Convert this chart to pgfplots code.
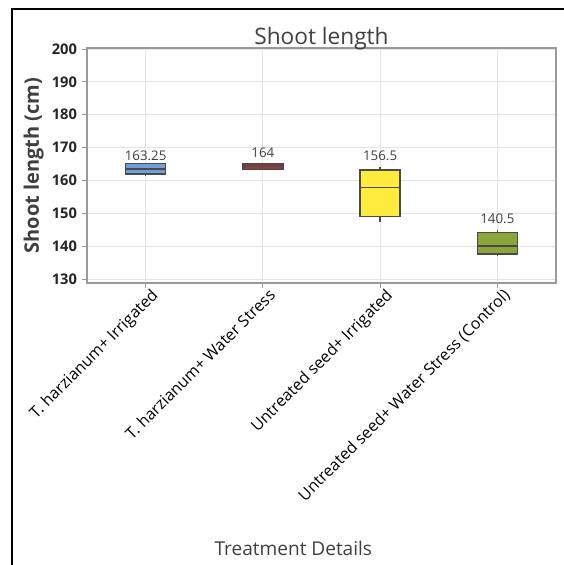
\documentclass[border=0pt]{standalone}
\usepackage{pgfplots}
\pgfplotsset{compat=1.18}
\usepgfplotslibrary{statistics}
\usepackage{fontspec}
\setmainfont{Open Sans}

\definecolor{txtgray}{HTML}{404040}
\definecolor{gridgray}{HTML}{E4E4E4}
\definecolor{axgray}{HTML}{9A9A9A}
\definecolor{boxedge}{HTML}{4A4A4A}
\definecolor{cblue}{HTML}{6E9FDB}
\definecolor{cred}{HTML}{9E3A38}
\definecolor{cyellow}{HTML}{FFEB3C}
\definecolor{cgreen}{HTML}{8AA53A}

\begin{document}
\begin{tikzpicture}[x=0.75pt,y=0.75pt]
% page = 564 x 565 px, axis lower left at px (87,283)
\useasboundingbox (-87,-282) rectangle (477,283);
\draw[line width=1.5pt,black] (-75,-282) -- (-75,274) -- (477,274);

\begin{axis}[
    at={(0,0)}, anchor=south west,
    scale only axis,
    width=351.75pt, height=176.25pt,
    xmin=0.5, xmax=4.5,
    ymin=128.8, ymax=200.3,
    ytick={130,140,...,200},
    xtick={1,2,3,4},
    xticklabels={T. harzianum+ Irrigated, T. harzianum+ Water Stress, Untreated seed+ Irrigated, Untreated seed+ Water Stress (Control)},
    xticklabel style={rotate=45, anchor=north east, font=\fontsize{12}{14}\selectfont, text=black, inner sep=1pt, xshift=4pt, yshift=-1pt},
    yticklabel style={font=\fontsize{11}{13}\selectfont\bfseries, text=black!85},
    /pgf/number format/assume math mode=true,
    tick align=outside,
    major tick length=4pt,
    tick style={axgray, line width=0.6pt},
    xtick pos=bottom, ytick pos=left,
    grid=major,
    major grid style={gridgray, line width=0.8pt},
    axis line style={axgray, line width=0.9pt},
    title={Shoot length},
    title style={at={(axis description cs:0.5,1)}, anchor=base, yshift=-3pt, font=\fontsize{17}{19}\selectfont, text=txtgray},
    ylabel={Shoot length (cm)},
    ylabel style={at={([xshift=-40pt]axis description cs:0,0.5)}, anchor=center, font=\fontsize{15}{17}\selectfont\bfseries, text=txtgray},
    xlabel={Treatment Details},
    xlabel style={at={([yshift=-198.75pt]axis description cs:0.44,0)}, anchor=center, font=\fontsize{14.3}{16}\selectfont, text=txtgray},
    boxplot/draw direction=y,
    boxplot/box extend=0.34,
    boxplot/whisker extend=0,
    clip=false,
]

\addplot[draw=boxedge, fill=cblue, line width=1.1pt, boxplot prepared={
    draw position=1, lower whisker=161.3, lower quartile=161.9,
    median=163.5, upper quartile=165.1, upper whisker=165.1}]
    coordinates {};
\addplot[draw=boxedge, fill=cred, line width=1.1pt, boxplot prepared={
    draw position=2, lower whisker=163.4, lower quartile=163.4,
    median=164.2, upper quartile=165.0, upper whisker=165.0}]
    coordinates {};
\addplot[draw=boxedge, fill=cyellow, line width=1.1pt, boxplot prepared={
    draw position=3, lower whisker=147.4, lower quartile=149.0,
    median=157.9, upper quartile=163.2, upper whisker=164.0}]
    coordinates {};
\addplot[draw=boxedge, fill=cgreen, line width=1.1pt, boxplot prepared={
    draw position=4, lower whisker=137.0, lower quartile=137.6,
    median=140.1, upper quartile=144.1, upper whisker=145.0}]
    coordinates {};

% value labels above each box
\addplot[only marks, mark=none, point meta=explicit symbolic,
    nodes near coords,
    nodes near coords style={anchor=center, font=\fontsize{10}{12}\selectfont, text=txtgray}]
    coordinates {
    (1,167.6)[163.25]
    (2,168.5)[164]
    (3,167.6)[156.5]
    (4,148.3)[140.5]
    };

\end{axis}
\end{tikzpicture}
\end{document}
